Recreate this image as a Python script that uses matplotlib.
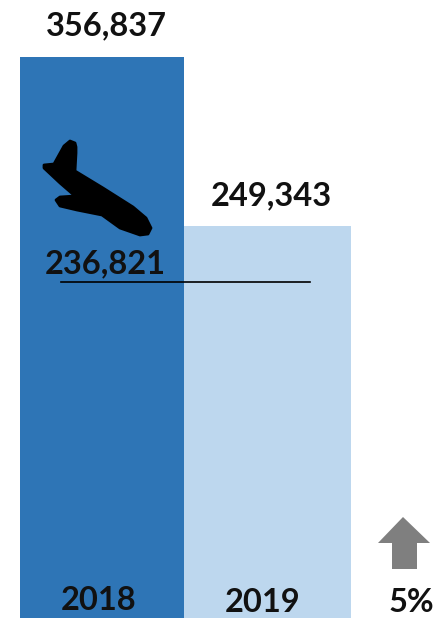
import matplotlib
matplotlib.use("Agg")
import matplotlib.pyplot as plt
from matplotlib.patches import Polygon

plt.rcParams['font.family'] = ['Lato', 'DejaVu Sans']

years = ['2018', '2019']
values = [356837, 249343]
bar_colors = ['#2E75B6', '#BDD7EE']
value_labels = ['356,837', '249,343']
line_label = '236,821'
line_level = 213700
change_label = '5%'

fig = plt.figure(figsize=(4.36, 6.18), dpi=100)
ax = fig.add_axes([0, 0, 1, 1])
ax.set_xlim(0, 436)
ax.set_ylim(0, 393090)
ax.axis('off')

# bars are not quite the same width in the original
ax.bar(102, values[0], width=164, color=bar_colors[0])
ax.bar(267.5, values[1], width=167, color=bar_colors[1])

ax.plot([61, 310], [line_level, line_level], color='black', lw=1.2)

fs = 23.5
ax.text(106.5, 393090 - 26 * 636, value_labels[0], ha='center', va='center', fontsize=fs, fontweight='bold', color='#111111')
ax.text(271, 393090 - 196 * 636, value_labels[1], ha='center', va='center', fontsize=fs, fontweight='bold', color='#111111')
ax.text(105, 393090 - 264 * 636, line_label, ha='center', va='center', fontsize=fs, fontweight='bold', color='#111111')
ax.text(99, 393090 - 601 * 636, years[0], ha='center', va='center', fontsize=fs, fontweight='bold', color='#111111')
ax.text(263, 393090 - 603 * 636, years[1], ha='center', va='center', fontsize=fs, fontweight='bold', color='#111111')
ax.text(411, 393090 - 603 * 636, change_label, ha='center', va='center', fontsize=fs, fontweight='bold', color='#111111')

# overlay in image pixels for the two shapes
ov = fig.add_axes([0, 0, 1, 1])
ov.set_xlim(0, 436)
ov.set_ylim(618, 0)
ov.axis('off')

plane = [(44, 165), (54, 164), (64, 146), (70, 141), (75, 143), (76, 147), (76, 153), (75, 171),
         (103, 188), (133, 207), (146, 218), (151, 228), (148, 234), (140, 235),
         (120, 228), (102, 215), (77, 210), (60, 206), (56, 200), (60, 197), (75, 196),
         (60, 183), (44, 168)]
ov.add_patch(Polygon(plane, closed=True, fc='black', ec='black', lw=2, joinstyle='round'))

arrow = [(403, 517), (430, 543), (417, 543), (417, 569), (392, 569), (392, 543), (378, 543)]
ov.add_patch(Polygon(arrow, closed=True, fc='#7F7F7F', ec='none'))

fig.savefig('out.png', dpi=100)
